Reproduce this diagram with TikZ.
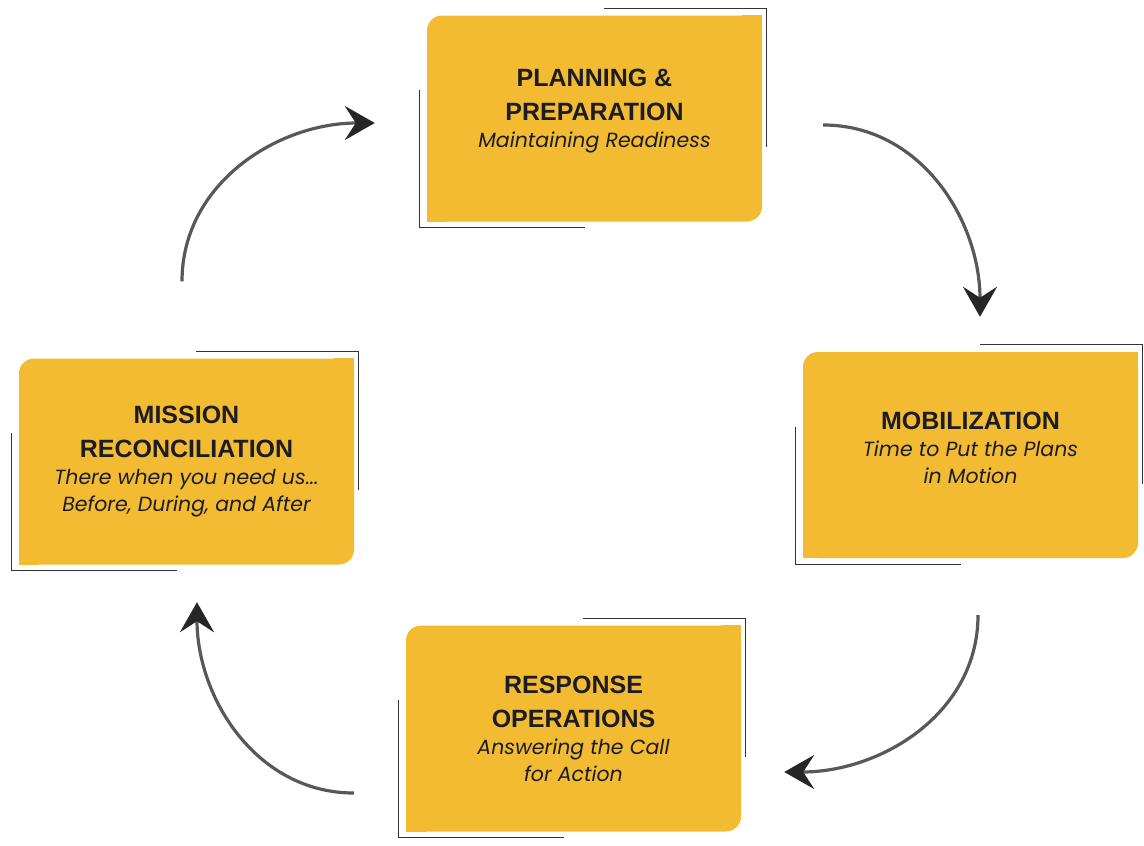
\documentclass[tikz,border=0pt]{standalone}
\usepackage{fontspec}
\usetikzlibrary{arrows.meta}
\newfontfamily\titlefont{Liberation Sans}
\newfontfamily\subfont{Poppins}
\definecolor{phaseyellow}{RGB}{242,187,49}
\definecolor{phasetext}{RGB}{28,28,38}
\definecolor{cyclegray}{RGB}{88,88,88}
\newcommand{\phasetitle}[1]{{\titlefont\upshape\bfseries\fontsize{25}{34}\selectfont #1}}

\begin{document}
\begin{tikzpicture}[
		x=1pt, y=-1pt,
		phase/.style={
				fill=phaseyellow, rounded corners=15pt,
				minimum width=335pt, minimum height=206pt,
				inner sep=0pt, align=center, text=phasetext,
				font=\subfont\itshape\fontsize{20.5}{27}\selectfont,
			},
		cornerline/.style={draw=black!80, line width=1.2pt},
		cyclearrow/.style={draw=cyclegray, line width=3.2pt,
				-{Stealth[length=30pt, width=34pt, inset=11pt, color=black!85]}},
	]
	\useasboundingbox (0,0) rectangle (1144,846);

	\node[phase] (plan) at (594.5,118.5) {\phasetitle{PLANNING \&}\\[7pt]\phasetitle{PREPARATION}\\ Maintaining Readiness\\[-6pt]};
	\node[phase] (mob) at (970.5,455) {\phasetitle{MOBILIZATION}\\ Time to Put the Plans\\ in Motion\\[-12pt]};
	\node[phase] (resp) at (573.5,728.5) {\phasetitle{RESPONSE}\\[7pt]\phasetitle{OPERATIONS}\\ Answering the Call\\ for Action};
	\node[phase] (mis) at (186.5,461.5) {\phasetitle{MISSION}\\[7pt]\phasetitle{RECONCILIATION}\\ There when you need us...\\ Before, During, and After};

	% square corners + offset corner lines
	\foreach \n in {plan,mob,resp,mis} {
			\fill[phaseyellow] (\n.north east) rectangle ++(-20pt,-20pt);
			\fill[phaseyellow] (\n.south west) rectangle ++(20pt,20pt);
			\draw[cornerline] ([shift={(-158pt,7pt)}]\n.north east) -| ([shift={(4pt,-132pt)}]\n.north east);
			\draw[cornerline] ([shift={(-7pt,-75pt)}]\n.north west) |- ([shift={(158pt,-6pt)}]\n.south west);
		}

	\draw[cyclearrow] ([shift={(-4.5pt,77pt)}]mis.north) to[out=90,in=180] ([shift={(-52pt,-4.5pt)}]plan.west);
	\draw[cyclearrow] ([shift={(61pt,-6.5pt)}]plan.east) to[out=0,in=90] ([shift={(9.5pt,35pt)}]mob.north);
	\draw[cyclearrow] ([shift={(7.5pt,-57pt)}]mob.south) to[out=270,in=0] ([shift={(43pt,-43.5pt)}]resp.east);
	\draw[cyclearrow] ([shift={(-52pt,-64.5pt)}]resp.west) to[out=180,in=270] ([shift={(10.5pt,-37.5pt)}]mis.south);
\end{tikzpicture}
\end{document}
